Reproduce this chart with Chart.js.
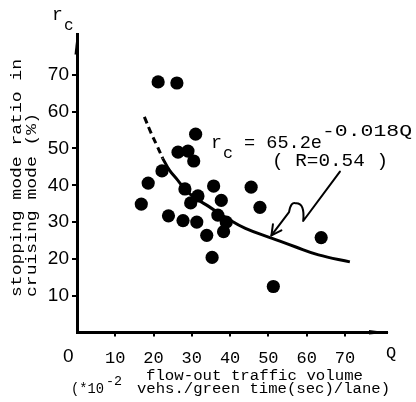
<!DOCTYPE html>
<html>
<head>
<meta charset="utf-8">
<script src="https://cdn.jsdelivr.net/npm/chart.js@4.4.1/dist/chart.umd.min.js"></script>
<style>
  html, body { margin: 0; padding: 0; background: #fff; }
  #wrap { width: 416px; height: 402px; }
</style>
</head>
<body>
<div id="wrap"><canvas id="rc_chart" width="416" height="402"></canvas></div>
<script>
// observed points (Q, r_c %)
const pointQ = [21.2, 26.1, 31.0, 26.4, 29.0, 30.5, 22.2, 18.6, 28.2, 35.7, 45.5, 16.8, 29.7,
                31.6, 37.7, 47.8, 23.9, 27.7, 31.3, 36.8, 39.0, 38.3, 33.9, 35.3, 63.8, 51.3];
const pointR = [68.1, 67.8, 53.9, 49.0, 49.3, 46.6, 43.9, 40.6, 39.0, 39.8, 39.5, 34.9, 35.2,
                37.1, 35.9, 34.0, 31.7, 30.4, 30.0, 31.9, 30.0, 27.4, 26.4, 20.4, 25.8, 12.5];

// regression curve as drawn
const dashQ = [17.6, 19.4, 20.8, 22.4];
const dashR = [58.6, 54.1, 51.0, 47.3];
const curveQ = [22.4, 24.1, 26.3, 28.4, 31.0, 34.5, 38.8, 44.0, 51.0, 57.0, 63.1, 71.3];
const curveR = [47.3, 44.2, 41.4, 38.7, 36.5, 34.2, 31.3, 28.3, 25.6, 23.3, 21.1, 19.2];

// leader arrow: start, S bottom, ctrl, hump top, ctrl, S end, tip
const arrowQ = [68.7, 59.1, 59.6, 57.2, 55.9, 55.4, 50.8];
const arrowR = [43.7, 30.3, 35.2, 35.1, 35.7, 32.7, 26.4];

const xTicks = [10, 20, 30, 40, 50, 60, 70];
const yTicks = [10, 20, 30, 40, 50, 60, 70];

const mono = "'Liberation Mono', 'DejaVu Sans Mono', monospace";
const sans = "'Liberation Sans', Arial, sans-serif";

function toXY(qs, rs) {
    return qs.map(function(q, i) { return { x: q, y: rs[i] }; });
}

function fitText(ctx, text, x, y, w) {
    const m = ctx.measureText(text).width;
    ctx.save();
    ctx.translate(x, y);
    ctx.scale(w / m, 1);
    ctx.fillText(text, 0, 0);
    ctx.restore();
}

const extras = {
    id: 'extras',
    afterDraw: function(chart) {
        const ctx = chart.ctx;
        const xs = chart.scales.x, ys = chart.scales.y;
        const area = chart.chartArea;
        ctx.save();
        ctx.fillStyle = '#000';
        ctx.strokeStyle = '#000';
        ctx.textBaseline = 'alphabetic';
        ctx.textAlign = 'left';

        // axis arrowheads
        ctx.beginPath();
        ctx.moveTo(area.left, area.top - 2);
        ctx.lineTo(area.left - 2.5, area.top + 20);
        ctx.lineTo(area.left + 1.5, area.top + 20);
        ctx.closePath();
        ctx.fill();
        ctx.beginPath();
        ctx.moveTo(area.right + 2, area.bottom);
        ctx.lineTo(area.right - 18, area.bottom - 2.5);
        ctx.lineTo(area.right - 18, area.bottom + 2);
        ctx.closePath();
        ctx.fill();

        // r_c axis name
        ctx.font = '18px ' + mono;
        ctx.fillText('r', 52, 20);
        ctx.font = '16px ' + mono;
        ctx.fillText('c', 64, 30);

        // Q axis name and origin
        ctx.font = '17px ' + mono;
        ctx.fillText('Q', 386, 358);
        ctx.font = '19px ' + sans;
        ctx.fillText('0', 63, 362);

        // equation
        ctx.font = '18px ' + mono;
        fitText(ctx, 'r', 211, 148, 11);
        ctx.font = '16px ' + mono;
        fitText(ctx, 'c', 223, 158, 10);
        ctx.font = '18px ' + mono;
        fitText(ctx, '= 65.2e', 244, 148, 78);
        ctx.font = '17px ' + mono;
        fitText(ctx, '-0.018Q', 322, 136, 90);
        ctx.font = '18px ' + mono;
        fitText(ctx, '( R=0.54 )', 272, 166, 116);

        // leader arrow
        const ap = arrowQ.map(function(q, i) {
            return [xs.getPixelForValue(q), ys.getPixelForValue(arrowR[i])];
        });
        ctx.lineWidth = 2;
        ctx.lineJoin = 'round';
        ctx.lineCap = 'round';
        ctx.beginPath();
        ctx.moveTo(ap[0][0], ap[0][1]);
        ctx.lineTo(ap[1][0], ap[1][1]);
        ctx.quadraticCurveTo(ap[2][0], ap[2][1], ap[3][0], ap[3][1]);
        ctx.quadraticCurveTo(ap[4][0], ap[4][1], ap[5][0], ap[5][1]);
        ctx.lineTo(ap[6][0], ap[6][1]);
        ctx.stroke();
        ctx.beginPath();
        ctx.moveTo(ap[6][0] + 1.5, ap[6][1] - 11);
        ctx.lineTo(ap[6][0], ap[6][1]);
        ctx.lineTo(ap[6][0] + 10, ap[6][1] - 5);
        ctx.stroke();

        // x title
        ctx.font = '15.5px ' + mono;
        fitText(ctx, 'flow-out traffic volume', 146, 380, 217);
        fitText(ctx, '(*10', 71, 393, 33);
        ctx.font = '13px ' + mono;
        fitText(ctx, '-2', 106, 385, 16);
        ctx.font = '15.5px ' + mono;
        fitText(ctx, 'vehs./green time(sec)/lane)', 137, 393, 253);

        // y title (rotated)
        ctx.save();
        ctx.translate(21, 297);
        ctx.rotate(-Math.PI / 2);
        ctx.font = '15.5px ' + mono;
        fitText(ctx, 'stopping mode ratio in', 0, 0, 238);
        ctx.restore();
        ctx.save();
        ctx.translate(36, 297);
        ctx.rotate(-Math.PI / 2);
        ctx.font = '15.5px ' + mono;
        fitText(ctx, 'cruising mode (%)', 0, 0, 184);
        ctx.restore();

        ctx.restore();
    }
};

const ctx = document.getElementById('rc_chart').getContext('2d');
const rcChart = new Chart(ctx, {
    type: 'scatter',
    data: {
        datasets: [{
            label: 'observed',
            data: toXY(pointQ, pointR),
            backgroundColor: '#000',
            borderWidth: 0,
            pointRadius: 6.6
        }, {
            label: 'fit (extrapolated)',
            type: 'line',
            data: toXY(dashQ, dashR),
            borderColor: '#000',
            borderWidth: 3,
            borderDash: [7, 4],
            pointRadius: 0,
            tension: 0.4,
            fill: false
        }, {
            label: 'fit',
            type: 'line',
            data: toXY(curveQ, curveR),
            borderColor: '#000',
            borderWidth: 3,
            pointRadius: 0,
            tension: 0.4,
            fill: false
        }]
    },
    options: {
        responsive: false,
        animation: false,
        devicePixelRatio: 1,
        layout: { padding: { top: 34.4, right: 29, left: 0, bottom: 0 } },
        plugins: {
            legend: { display: false },
            tooltip: { enabled: false }
        },
        scales: {
            x: {
                type: 'linear',
                min: 0,
                max: 81,
                afterFit: function(s) { s.height = 69.5; },
                afterBuildTicks: function(s) { s.ticks = xTicks.map(function(v) { return { value: v }; }); },
                border: { display: true, color: '#000', width: 3 },
                grid: { drawOnChartArea: false, drawTicks: true, tickLength: 4, color: '#000', lineWidth: 2 },
                ticks: { color: '#000', padding: 12, maxRotation: 0, font: { family: mono, size: 17 } }
            },
            y: {
                type: 'linear',
                min: 0,
                max: 81,
                afterFit: function(s) { s.width = 77; },
                afterBuildTicks: function(s) { s.ticks = yTicks.map(function(v) { return { value: v }; }); },
                border: { display: true, color: '#000', width: 3 },
                grid: { drawOnChartArea: false, drawTicks: true, tickLength: 5, color: '#000', lineWidth: 2 },
                ticks: { color: '#000', padding: 3, font: { family: sans, size: 19 } }
            }
        }
    },
    plugins: [extras]
});
</script>
</body>
</html>
